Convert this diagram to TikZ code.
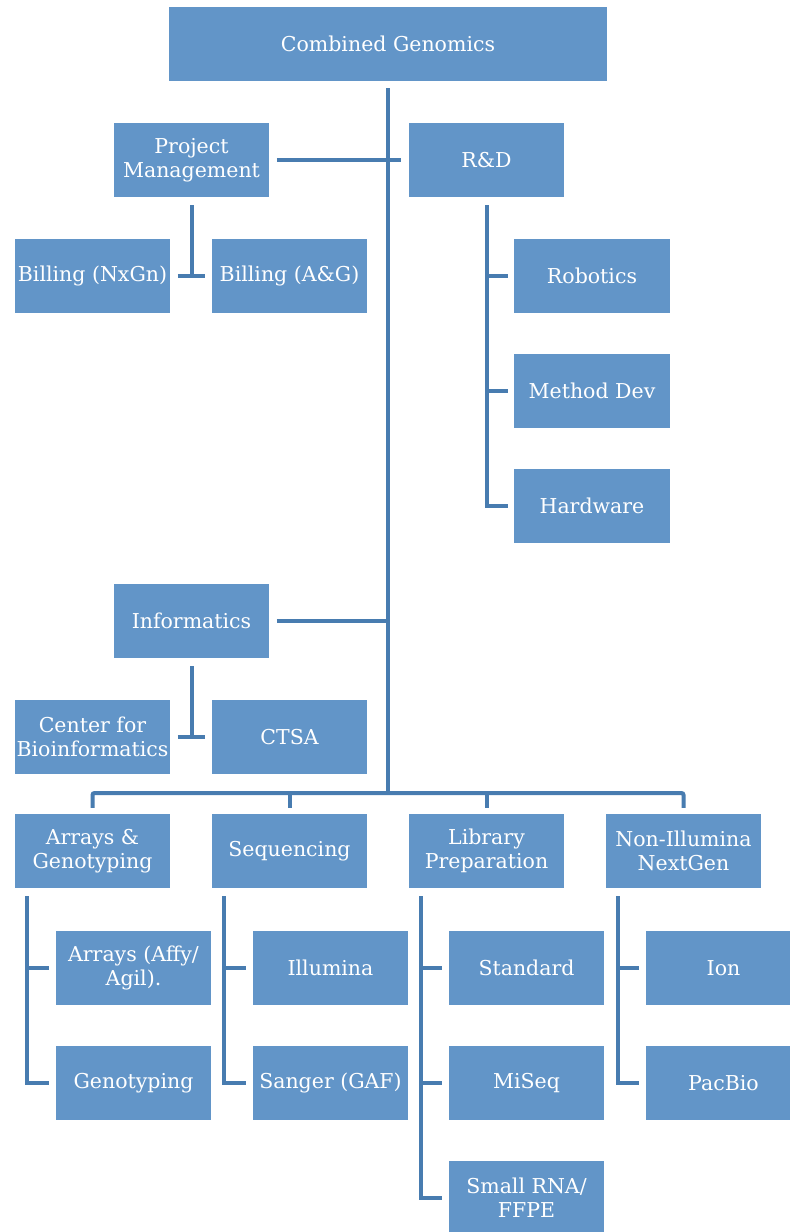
\documentclass[tikz,border=0pt]{standalone}
\usepackage{fontspec}
\setmainfont{DejaVu Serif}
\usetikzlibrary{positioning}
\definecolor{boxblue}{RGB}{98,149,200}
\definecolor{lineblue}{RGB}{72,124,176}
\tikzset{
    unit/.style={rectangle, fill=boxblue, draw=white, line width=1.5pt, text=white,
        minimum width=157pt, minimum height=75pt, inner sep=0pt, align=center,
        font=\fontsize{20.5}{24}\selectfont},
    link/.style={draw=lineblue, line width=4pt},
}
\begin{document}
\begin{tikzpicture}[x=1pt,y=-1pt]
    \useasboundingbox (0,0) rectangle (790,1232);
    \fill[white] (0,0) rectangle (790,1232);
    \clip (0,0) rectangle (790,1232);
    %draw top part
    \node[unit, minimum width=440pt] (top) at (388,44) {Combined Genomics};
    \node[unit] (pm) at (191.5,160) {Project\\Management};
    \node[unit] (rd) at (486.5,160) {R\&D};
    \node[unit] (bn) at (92.5,276) {Billing (NxGn)};
    \node[unit] (ba) at (289.5,276) {Billing (A\&G)};
    \node[unit] (rob) at (592,276) {Robotics};
    \node[unit] (md) at (592,391) {Method Dev};
    \node[unit] (hw) at (592,506) {Hardware};
    \node[unit] (inf) at (191.5,621) {Informatics};
    \node[unit] (cb) at (92.5,737) {Center for\\Bioinformatics};
    \node[unit] (ctsa) at (289.5,737) {CTSA};
    %draw groups
    \node[unit] (arr) at (92.5,851) {Arrays \&\\Genotyping};
    \node[unit] (seq) at (289.5,851) {Sequencing};
    \node[unit] (lib) at (486.5,851) {Library\\Preparation};
    \node[unit] (non) at (683.5,851) {Non-Illumina\\NextGen};
    \node[unit] (aff) at (133.5,968) {Arrays (Affy/\\Agil).};
    \node[unit] (gen) at (133.5,1083) {Genotyping};
    \node[unit] (ill) at (330.5,968) {Illumina};
    \node[unit] (san) at (330.5,1083) {Sanger (GAF)};
    \node[unit] (std) at (526.5,968) {Standard};
    \node[unit] (mis) at (526.5,1083) {MiSeq};
    \node[unit] (sma) at (526.5,1198) {Small RNA/\\FFPE};
    \node[unit] (ion) at (723.5,968) {Ion};
    \node[unit] (pac) at (723.5,1083) {PacBio};
    %draw links
    \coordinate (bus) at (388,793);
    \draw[link] ([yshift=-6pt]top.south) -- (bus);
    \draw[link] ([xshift=6pt]pm.east) -- ([xshift=-6pt]rd.west);
    \draw[link] ([yshift=-7pt]pm.south) -- (pm.south |- bn.east);
    \draw[link] ([xshift=6pt]bn.east) -- ([xshift=-5pt]ba.west);
    \draw[link] ([yshift=-7pt]rd.south) |- ([xshift=-5pt]hw.west);
    \foreach \n in {rob,md}
        {%
            \draw[link] (rd.south |- \n.west) -- ([xshift=-5pt]\n.west);
        }
    \draw[link] ([xshift=6pt]inf.east) -- (inf.east -| bus);
    \draw[link] ([yshift=-7pt]inf.south) -- (inf.south |- cb.east);
    \draw[link] ([xshift=6pt]cb.east) -- ([xshift=-5pt]ctsa.west);
    \draw[link, rounded corners=2pt] ([yshift=5pt]arr.north) |- (bus) -| ([yshift=5pt]non.north);
    \foreach \n in {seq,lib}
        {%
            \draw[link] ([yshift=5pt]\n.north) -- (\n.north |- bus);
        }
    \foreach \p/\last in {arr/gen, seq/san, lib/sma, non/pac}
        {%
            \coordinate (\p bar) at ([xshift=14pt,yshift=-7pt]\p.south west);
            \draw[link] (\p bar) |- ([xshift=-5pt]\last.west);
        }
    \foreach \p/\c in {arr/aff, seq/ill, lib/std, lib/mis, non/ion}
        {%
            \draw[link] (\p bar |- \c.west) -- ([xshift=-5pt]\c.west);
        }
\end{tikzpicture}
\end{document}
